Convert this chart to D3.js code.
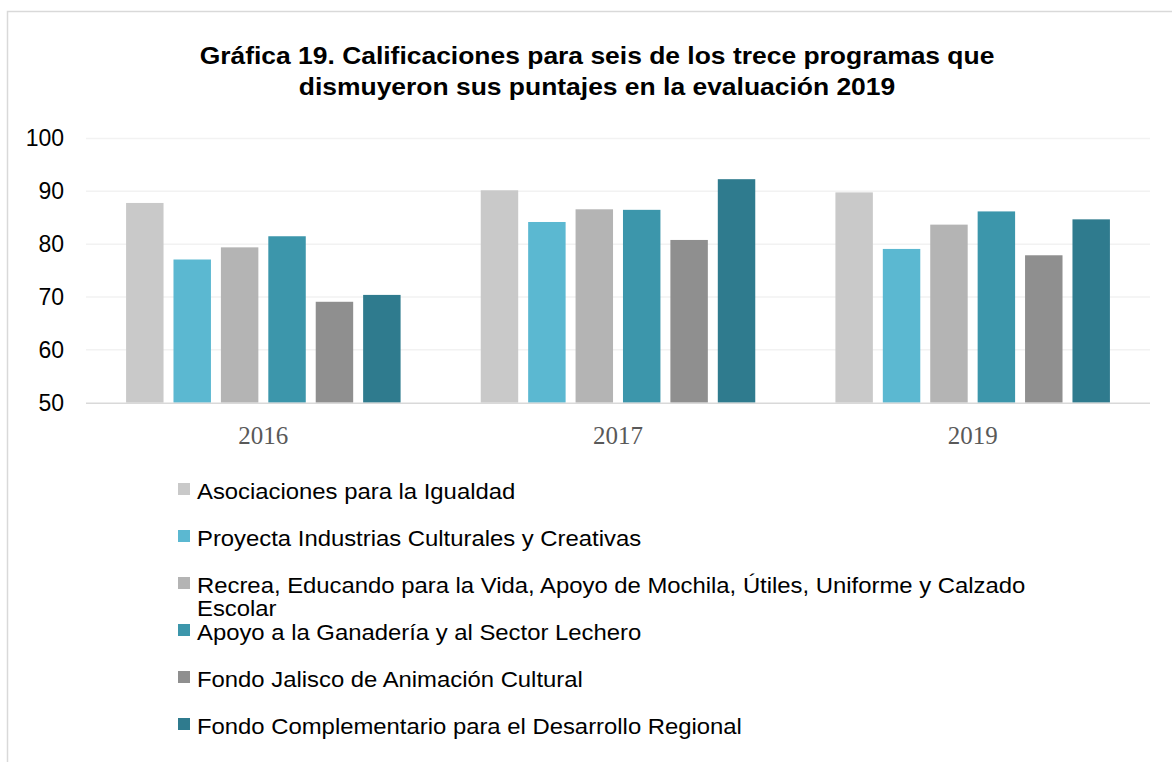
<!DOCTYPE html>
<html>
<head>
<meta charset="utf-8">
<script src="https://cdn.jsdelivr.net/npm/d3@7"></script>
<style>
  body { margin: 0; background: #fff; }
  svg { display: block; }
</style>
</head>
<body>
<div id="chart"></div>
<script>
  // datos
  var years = ['2016', '2017', '2019'];
  var programs = [
    'Asociaciones para la Igualdad',
    'Proyecta Industrias Culturales y Creativas',
    'Recrea, Educando para la Vida, Apoyo de Mochila, Útiles, Uniforme y Calzado Escolar',
    'Apoyo a la Ganadería y al Sector Lechero',
    'Fondo Jalisco de Animación Cultural',
    'Fondo Complementario para el Desarrollo Regional'
  ];
  var scores2016 = [87.8, 77.1, 79.4, 81.5, 69.1, 70.4];
  var scores2017 = [90.2, 84.2, 86.6, 86.5, 80.8, 92.3];
  var scores2019 = [89.8, 79.1, 83.7, 86.2, 77.9, 84.7];
  var yTicks = [50, 60, 70, 80, 90, 100];
  var colors = ['#c9c9c9', '#5bb8d1', '#b4b4b4', '#3c96ab', '#8f8f8f', '#2f7b8e'];
  var titleLines = [
    'Gráfica 19. Calificaciones para seis de los trece programas que',
    'dismuyeron sus puntajes en la evaluación 2019'
  ];

  var scoresByYear = [scores2016, scores2017, scores2019];

  var W = 1172, H = 762;
  var svg = d3.select('#chart').append('svg').attr('width', W).attr('height', H);

  // borde
  svg.append('path')
    .attr('d', 'M7.5,' + H + 'V11.5H' + W)
    .attr('fill', 'none')
    .attr('stroke', '#d9d9d9')
    .attr('stroke-width', 1.5);

  // el texto de la imagen original sale algo ensanchado
  svg.append('g').selectAll('text')
    .data(titleLines)
    .enter().append('text')
    .attr('transform', function(d, i){ return 'translate(597,' + (64 + i * 31) + ') scale(1.15,1)'; })
    .attr('text-anchor', 'middle')
    .style('font-family', '"Liberation Sans", Arial, sans-serif')
    .style('font-weight', 'bold')
    .style('font-size', '23px')
    .attr('fill', '#000')
    .text(function(d){ return d; });

  var x0 = d3.scaleBand().domain(years).range([86, 1150]).paddingInner(0.226).paddingOuter(0.113);
  var x1 = d3.scaleBand().domain(d3.range(programs.length)).range([0, x0.bandwidth()]).paddingInner(0.21);
  var y = d3.scaleLinear().domain([50, 100]).range([402.7, 138.5]);

  // lineas de cuadricula
  svg.append('g').selectAll('line')
    .data(yTicks.filter(function(t){ return t > 50; }))
    .enter().append('line')
    .attr('x1', 86).attr('x2', 1150)
    .attr('y1', function(d){ return y(d); })
    .attr('y2', function(d){ return y(d); })
    .attr('stroke', '#f2f2f2')
    .attr('stroke-width', 1.5);

  var groups = svg.append('g').selectAll('g')
    .data(years)
    .enter().append('g')
    .attr('transform', function(d){ return 'translate(' + x0(d) + ',0)'; });

  groups.selectAll('rect')
    .data(function(d, i){ return scoresByYear[i].map(function(v, j){ return {v: v, j: j}; }); })
    .enter().append('rect')
    .attr('x', function(d){ return x1(d.j); })
    .attr('y', function(d){ return y(d.v); })
    .attr('width', x1.bandwidth())
    .attr('height', function(d){ return y(50) - y(d.v); })
    .attr('fill', function(d){ return colors[d.j]; });

  // eje x
  var xAxis = svg.append('g')
    .attr('transform', 'translate(0,' + y(50) + ')')
    .call(d3.axisBottom(x0).tickSize(0).tickPadding(24));
  xAxis.select('.domain').attr('d', 'M86,0.5H1150').attr('stroke', '#d9d9d9').attr('stroke-width', 1.5);
  xAxis.selectAll('text')
    .style('font-family', '"Liberation Serif", "DejaVu Serif", serif')
    .style('font-size', '25px')
    .attr('fill', '#595959');

  // eje y
  var yAxis = svg.append('g')
    .attr('transform', 'translate(64,0)')
    .call(d3.axisLeft(y).tickValues(yTicks).tickSize(0).tickPadding(0));
  yAxis.select('.domain').remove();
  yAxis.selectAll('text')
    .style('font-family', '"Liberation Sans", Arial, sans-serif')
    .style('font-size', '23px')
    .attr('fill', '#000');

  // leyenda
  var legend = svg.append('g');
  var rowY = [489, 536, 583, 630, 677, 724];
  var items = legend.selectAll('g')
    .data(programs)
    .enter().append('g')
    .attr('transform', function(d, i){ return 'translate(178,' + rowY[i] + ')'; });

  items.append('rect')
    .attr('x', 0).attr('y', -6)
    .attr('width', 12).attr('height', 12)
    .attr('fill', function(d, i){ return colors[i]; });

  items.append('text')
    .attr('transform', 'translate(19,9.5) scale(1.085,1)')
    .style('font-family', '"Liberation Sans", Arial, sans-serif')
    .style('font-size', '22px')
    .attr('fill', '#000')
    .each(function(d){
      // partir texto largo en lineas
      var t = d3.select(this);
      var words = d.split(' ');
      var line = [];
      var tspan = t.append('tspan').attr('x', 0);
      words.forEach(function(w){
        line.push(w);
        tspan.text(line.join(' '));
        if (tspan.node().getComputedTextLength() > 800 && line.length > 1) {
          line.pop();
          tspan.text(line.join(' '));
          line = [w];
          tspan = t.append('tspan').attr('x', 0).attr('dy', 24).text(w);
        }
      });
    });
</script>
</body>
</html>
